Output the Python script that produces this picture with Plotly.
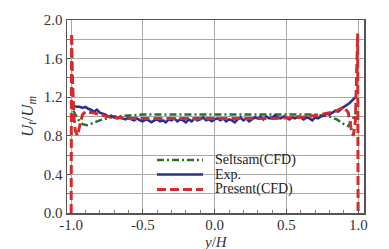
import plotly.graph_objects as go

# Exp. data (y/H, Ut/Um)
exp_x = [round(-0.98 + 0.02 * i, 2) for i in range(99)]
exp_y = [1.11, 1.10, 1.10, 1.09, 1.10, 1.08, 1.07, 1.05, 1.07, 1.04,
         1.03, 1.02, 1.00, 1.01, 0.99, 0.98, 0.99, 0.98, 0.97, 0.99,
         0.97, 0.96, 0.98, 0.96, 0.95, 0.97, 0.96, 0.94, 0.96, 0.97,
         0.95, 0.96, 0.94, 0.97, 0.96, 0.98, 0.95, 0.97, 0.96, 0.94,
         0.97, 0.95, 0.98, 0.96, 0.97, 0.99, 0.96, 0.97, 0.95, 0.97,
         0.98, 0.96, 0.98, 0.95, 0.97, 0.96, 0.94, 0.97, 0.99, 0.96,
         0.98, 0.95, 0.97, 0.99, 0.98, 1.00, 0.97, 1.00, 0.98, 0.99,
         1.01, 0.99, 0.98, 1.00, 0.99, 0.97, 0.99, 0.98, 1.00, 0.99,
         0.97, 0.99, 0.98, 0.96, 0.99, 0.98, 1.00, 1.01, 1.03, 1.02,
         1.04, 1.06, 1.05, 1.08, 1.10, 1.12, 1.14, 1.17, 1.20]

# Seltsam (CFD)
sel_x = [-0.985, -0.95, -0.92, -0.89, -0.85, -0.80, -0.75, -0.70, -0.60, -0.50,
         -0.30, 0.00, 0.30, 0.50, 0.70, 0.80, 0.85, 0.90, 0.93, 0.96, 0.985]
sel_y = [1.06, 0.97, 0.92, 0.91, 0.93, 0.96, 0.98, 1.00, 1.01, 1.02,
         1.02, 1.02, 1.02, 1.02, 1.02, 1.00, 0.97, 0.92, 0.90, 0.97, 1.05]

# Present (CFD)
pre_x = [-0.999, -0.996, -0.99, -0.98, -0.97, -0.955, -0.94, -0.92, -0.90, -0.85,
         -0.80, -0.75, -0.70, -0.60, -0.40, -0.20, 0.00, 0.20, 0.40, 0.60,
         0.70, 0.80, 0.85, 0.90, 0.93, 0.95, 0.965, 0.98, 0.99, 0.996, 0.999]
pre_y = [0.00, 1.86, 1.40, 1.00, 0.85, 0.80, 0.90, 1.02, 1.05, 1.04,
         1.02, 1.00, 0.99, 0.98, 0.98, 0.98, 0.98, 0.98, 0.98, 0.99,
         1.01, 1.04, 1.06, 1.10, 1.04, 0.88, 0.80, 0.95, 1.40, 1.86, 0.00]

series_names = ["Seltsam(CFD)", "Exp.", "Present(CFD)"]
x_ticks = [-1.0, -0.5, 0.0, 0.5, 1.0]
y_ticks = [0.0, 0.4, 0.8, 1.2, 1.6, 2.0]

FONT = "Liberation Serif"
styles = [
    dict(color="#2f6b35", width=2.5, dash="7px,3px,2px,3px"),
    dict(color="#2b2e8c", width=2.5),
    dict(color="#d52b2b", width=3, dash="9px,4px"),
]

fig = go.Figure()
for (xs, ys), name, st in zip([(sel_x, sel_y), (exp_x, exp_y), (pre_x, pre_y)],
                              series_names, styles):
    fig.add_trace(go.Scatter(x=xs, y=ys, mode="lines", name=name, line=st,
                             showlegend=False))

# compact legend drawn in paper coordinates
fig.add_shape(type="rect", xref="paper", yref="paper", x0=0.275, x1=0.845,
              y0=0.075, y1=0.33, fillcolor="white", line=dict(width=0),
              layer="below")
row_y = [0.275, 0.200, 0.122]
for name, st, ry in zip(series_names, styles, row_y):
    fig.add_shape(type="line", xref="paper", yref="paper", x0=0.303, x1=0.458,
                  y0=ry, y1=ry, line=st, layer="above")
    fig.add_annotation(xref="paper", yref="paper", x=0.49, y=ry, text=name,
                       showarrow=False, xanchor="left", yanchor="middle",
                       font=dict(family=FONT, size=14, color="#222222"))

# x-axis title
fig.add_annotation(xref="paper", yref="paper", x=0.5, y=-0.148,
                   text="<i>y</i>/<i>H</i>", showarrow=False,
                   xanchor="center", yanchor="middle",
                   font=dict(family=FONT, size=15, color="#333333"))

fig.update_layout(
    width=389, height=249,
    margin=dict(l=67, r=25, t=20, b=36, autoexpand=False),
    paper_bgcolor="white", plot_bgcolor="white",
    font=dict(family=FONT, size=14, color="#333333"),
    showlegend=False,
)
fig.update_xaxes(
    range=[-1.028, 1.04], tickvals=x_ticks, ticktext=[f"{v:.1f}" for v in x_ticks],
    showgrid=True, gridcolor="#a8a8a8", gridwidth=1,
    showline=True, linecolor="#555555", linewidth=1.5, mirror=True,
    ticks="inside", ticklen=4, tickcolor="#555555",
    minor=dict(dtick=0.1, ticks="inside", ticklen=3, tickcolor="#777777", showgrid=False),
    zeroline=False, ticklabelstandoff=-3,
    tickfont=dict(family=FONT, size=15, color="#333333"),
)
fig.update_yaxes(
    range=[0, 2.0], tickvals=y_ticks, ticktext=[f"{v:.1f}" for v in y_ticks],
    showgrid=True, gridcolor="#a8a8a8", gridwidth=1,
    showline=True, linecolor="#555555", linewidth=1.5, mirror=True,
    ticks="inside", ticklen=4, tickcolor="#555555",
    minor=dict(dtick=0.2, ticks="inside", ticklen=3, tickcolor="#777777",
               showgrid=True, gridcolor="#a8a8a8", gridwidth=1),
    zeroline=False,
    title=dict(text="<i>U<sub>t</sub></i>/<i>U<sub>m</sub></i>",
               font=dict(family=FONT, size=17, color="#333333"), standoff=6),
    tickfont=dict(family=FONT, size=15, color="#333333"),
)

fig.write_html("out.html", config={"displayModeBar": False, "staticPlot": True})

# make sure the page has no default body margin
with open("out.html", encoding="utf-8") as f:
    html = f.read()
html = html.replace("<head>", "<head><style>html,body{margin:0;padding:0;overflow:hidden;}</style>", 1)
with open("out.html", "w", encoding="utf-8") as f:
    f.write(html)
